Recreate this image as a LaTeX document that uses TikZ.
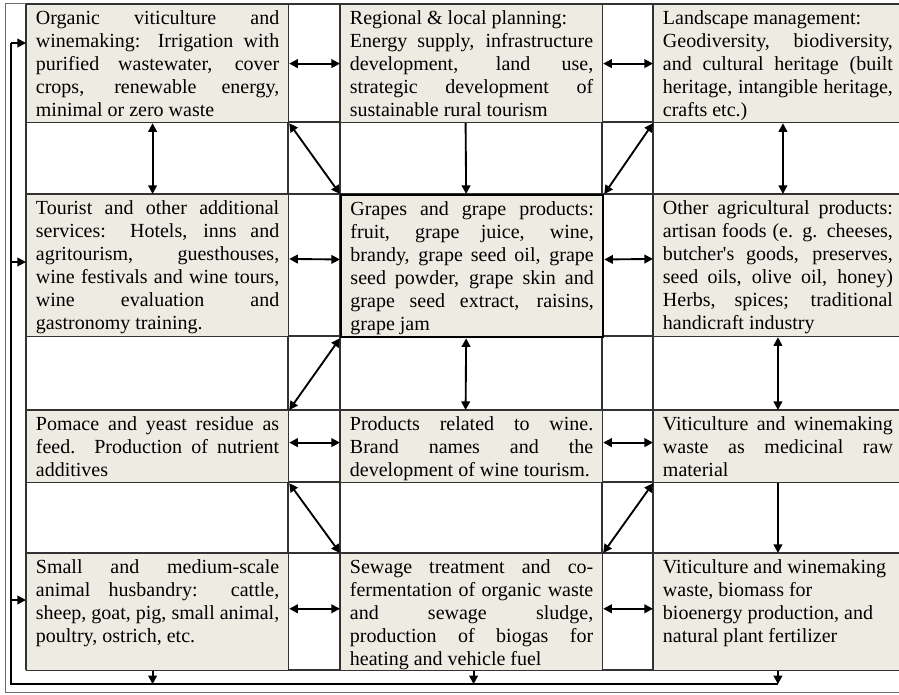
\documentclass[tikz,border=0pt]{standalone}
\usepackage{fontspec}
\setmainfont{Liberation Serif}[Ligatures=TeXOff]
\usetikzlibrary{arrows.meta}
\definecolor{cellbeige}{RGB}{237,235,226}
\definecolor{rulegray}{RGB}{50,50,50}
\hyphenpenalty=10000
\tolerance=10000
\newcommand{\boxtext}[3][182.5pt]{\parbox[c][#2][t]{#1}{\rule{0pt}{15pt}#3}}
\tikzset{
  cell/.style={draw=rulegray, line width=0.9pt, fill=cellbeige, anchor=north west,
    inner xsep=7pt, inner ysep=0pt, font=\fontsize{15pt}{17.25pt}\selectfont},
  both/.style={arrows={Triangle[length=6.5pt,width=6.5pt]-Triangle[length=6.5pt,width=6.5pt]}, line width=1.4pt},
  one/.style={arrows={-Triangle[length=6.5pt,width=6.5pt]}, line width=1.4pt},
}
\begin{document}
\begin{tikzpicture}[x=0.75pt,y=-0.75pt]
  \useasboundingbox (0,0) rectangle (899,694);
  \clip (0,0) rectangle (899,694);
  \draw[rulegray!70, line width=0.6pt] (5,3) rectangle (930,692);
  \foreach \y in {4,122,194,336,410,482,553,670}
    \draw[rulegray, line width=0.9pt] (26,\y) -- (930,\y);
  \foreach \x in {26,288,340,602,653}
    \draw[rulegray, line width=0.9pt] (\x,4) -- (\x,670);

  \node[cell] (organic) at (26,4) {\boxtext{88.5pt}{Organic viticulture and\linebreak winemaking: Irrigation with\linebreak purified wastewater, cover\linebreak crops, renewable energy,\linebreak minimal or zero waste}};
  \node[cell] (planning) at (340,4) {\boxtext{88.5pt}{Regional \& local planning:\newline Energy supply, infrastructure\linebreak development, land use,\linebreak strategic development of\linebreak sustainable rural tourism}};
  \node[cell] (landscape) at (653,4) {\boxtext[172.5pt]{88.5pt}{Landscape management:\newline Geodiversity, biodiversity,\linebreak and cultural heritage (built\linebreak heritage, intangible heritage,\linebreak crafts etc.)}};

  \node[cell] (tourist) at (26,194) {\boxtext{106.5pt}{Tourist and other additional\linebreak services: Hotels, inns and\linebreak agritourism, guesthouses,\linebreak wine festivals and wine tours,\linebreak wine evaluation and\linebreak gastronomy training.}};
  \node[cell, draw=black, line width=1.7pt] (grapes) at (340,194) {\boxtext{106.5pt}{Grapes and grape products:\linebreak fruit, grape juice, wine,\linebreak brandy, grape seed oil, grape\linebreak seed powder, grape skin and\linebreak grape seed extract, raisins,\linebreak grape jam}};
  \node[cell] (otheragri) at (653,194) {\boxtext[172.5pt]{106.5pt}{Other agricultural products:\linebreak artisan foods (e. g. cheeses,\linebreak butcher's goods, preserves,\linebreak seed oils, olive oil, honey)\linebreak Herbs, spices; traditional\linebreak handicraft industry}};

  \node[cell] (pomace) at (26,410) {\boxtext{54pt}{Pomace and yeast residue as\linebreak feed. Production of nutrient\linebreak additives}};
  \node[cell] (wineprod) at (340,410) {\boxtext{54pt}{Products related to wine.\linebreak Brand names and the\linebreak development of wine tourism.}};
  \node[cell] (medicinal) at (653,410) {\boxtext[172.5pt]{54pt}{Viticulture and winemaking\linebreak waste as medicinal raw\linebreak material}};

  \node[cell] (animal) at (26,553) {\boxtext{87.75pt}{Small and medium-scale\linebreak animal husbandry: cattle,\linebreak sheep, goat, pig, small animal,\linebreak poultry, ostrich, etc.}};
  \node[cell] (sewage) at (340,553) {\boxtext{87.75pt}{Sewage treatment and co-\linebreak fermentation of organic waste\linebreak and sewage sludge,\linebreak production of biogas for\linebreak heating and vehicle fuel}};
  \node[cell] (bioenergy) at (653,553) {\boxtext[172.5pt]{87.75pt}{Viticulture and winemaking\newline waste, biomass for\newline bioenergy production, and\newline natural plant fertilizer}};

  \foreach \a/\b/\dy in {organic/planning/0pt, planning/landscape/0pt, tourist/grapes/5pt, grapes/otheragri/5pt,
      pomace/wineprod/3pt, wineprod/medicinal/3pt, animal/sewage/2.5pt, sewage/bioenergy/2.5pt}
    \draw[both] ([yshift=\dy]\a.east) -- ([yshift=\dy]\b.west);
  \foreach \a/\b in {organic.south east/grapes.north west, landscape.south west/grapes.north east,
      grapes.south west/pomace.north east, pomace.south east/sewage.north west, medicinal.south west/sewage.north east}
    \draw[both] (\a) -- (\b);
  \draw[both] ([xshift=-3.75pt]organic.south) -- ([xshift=-3.75pt]tourist.north);
  \draw[one] ([xshift=-4.5pt]planning.south) -- ([xshift=-4.5pt]grapes.north);
  \draw[both] ([xshift=3.75pt]landscape.south) -- ([xshift=3.75pt]otheragri.north);
  \draw[both] (otheragri.south) -- (medicinal.north);
  \draw[both] ([xshift=-4.5pt]grapes.south) -- ([xshift=-4.5pt]wineprod.north);
  \draw[one] (medicinal.south) -- (bioenergy.north);

  \foreach \n/\dx in {animal/-3.75pt, sewage/1.5pt, bioenergy/0pt}
    \draw[one] ([xshift=\dx]\n.south) -- ++(0,13);
  \draw[line width=1.4pt] (bioenergy.south) ++(0,13) -| (11,43);
  \foreach \n/\y in {organic/43, tourist/262, animal/600}
    \draw[one] (11,\y) -- (\n.west |- 0,\y);
\end{tikzpicture}
\end{document}
